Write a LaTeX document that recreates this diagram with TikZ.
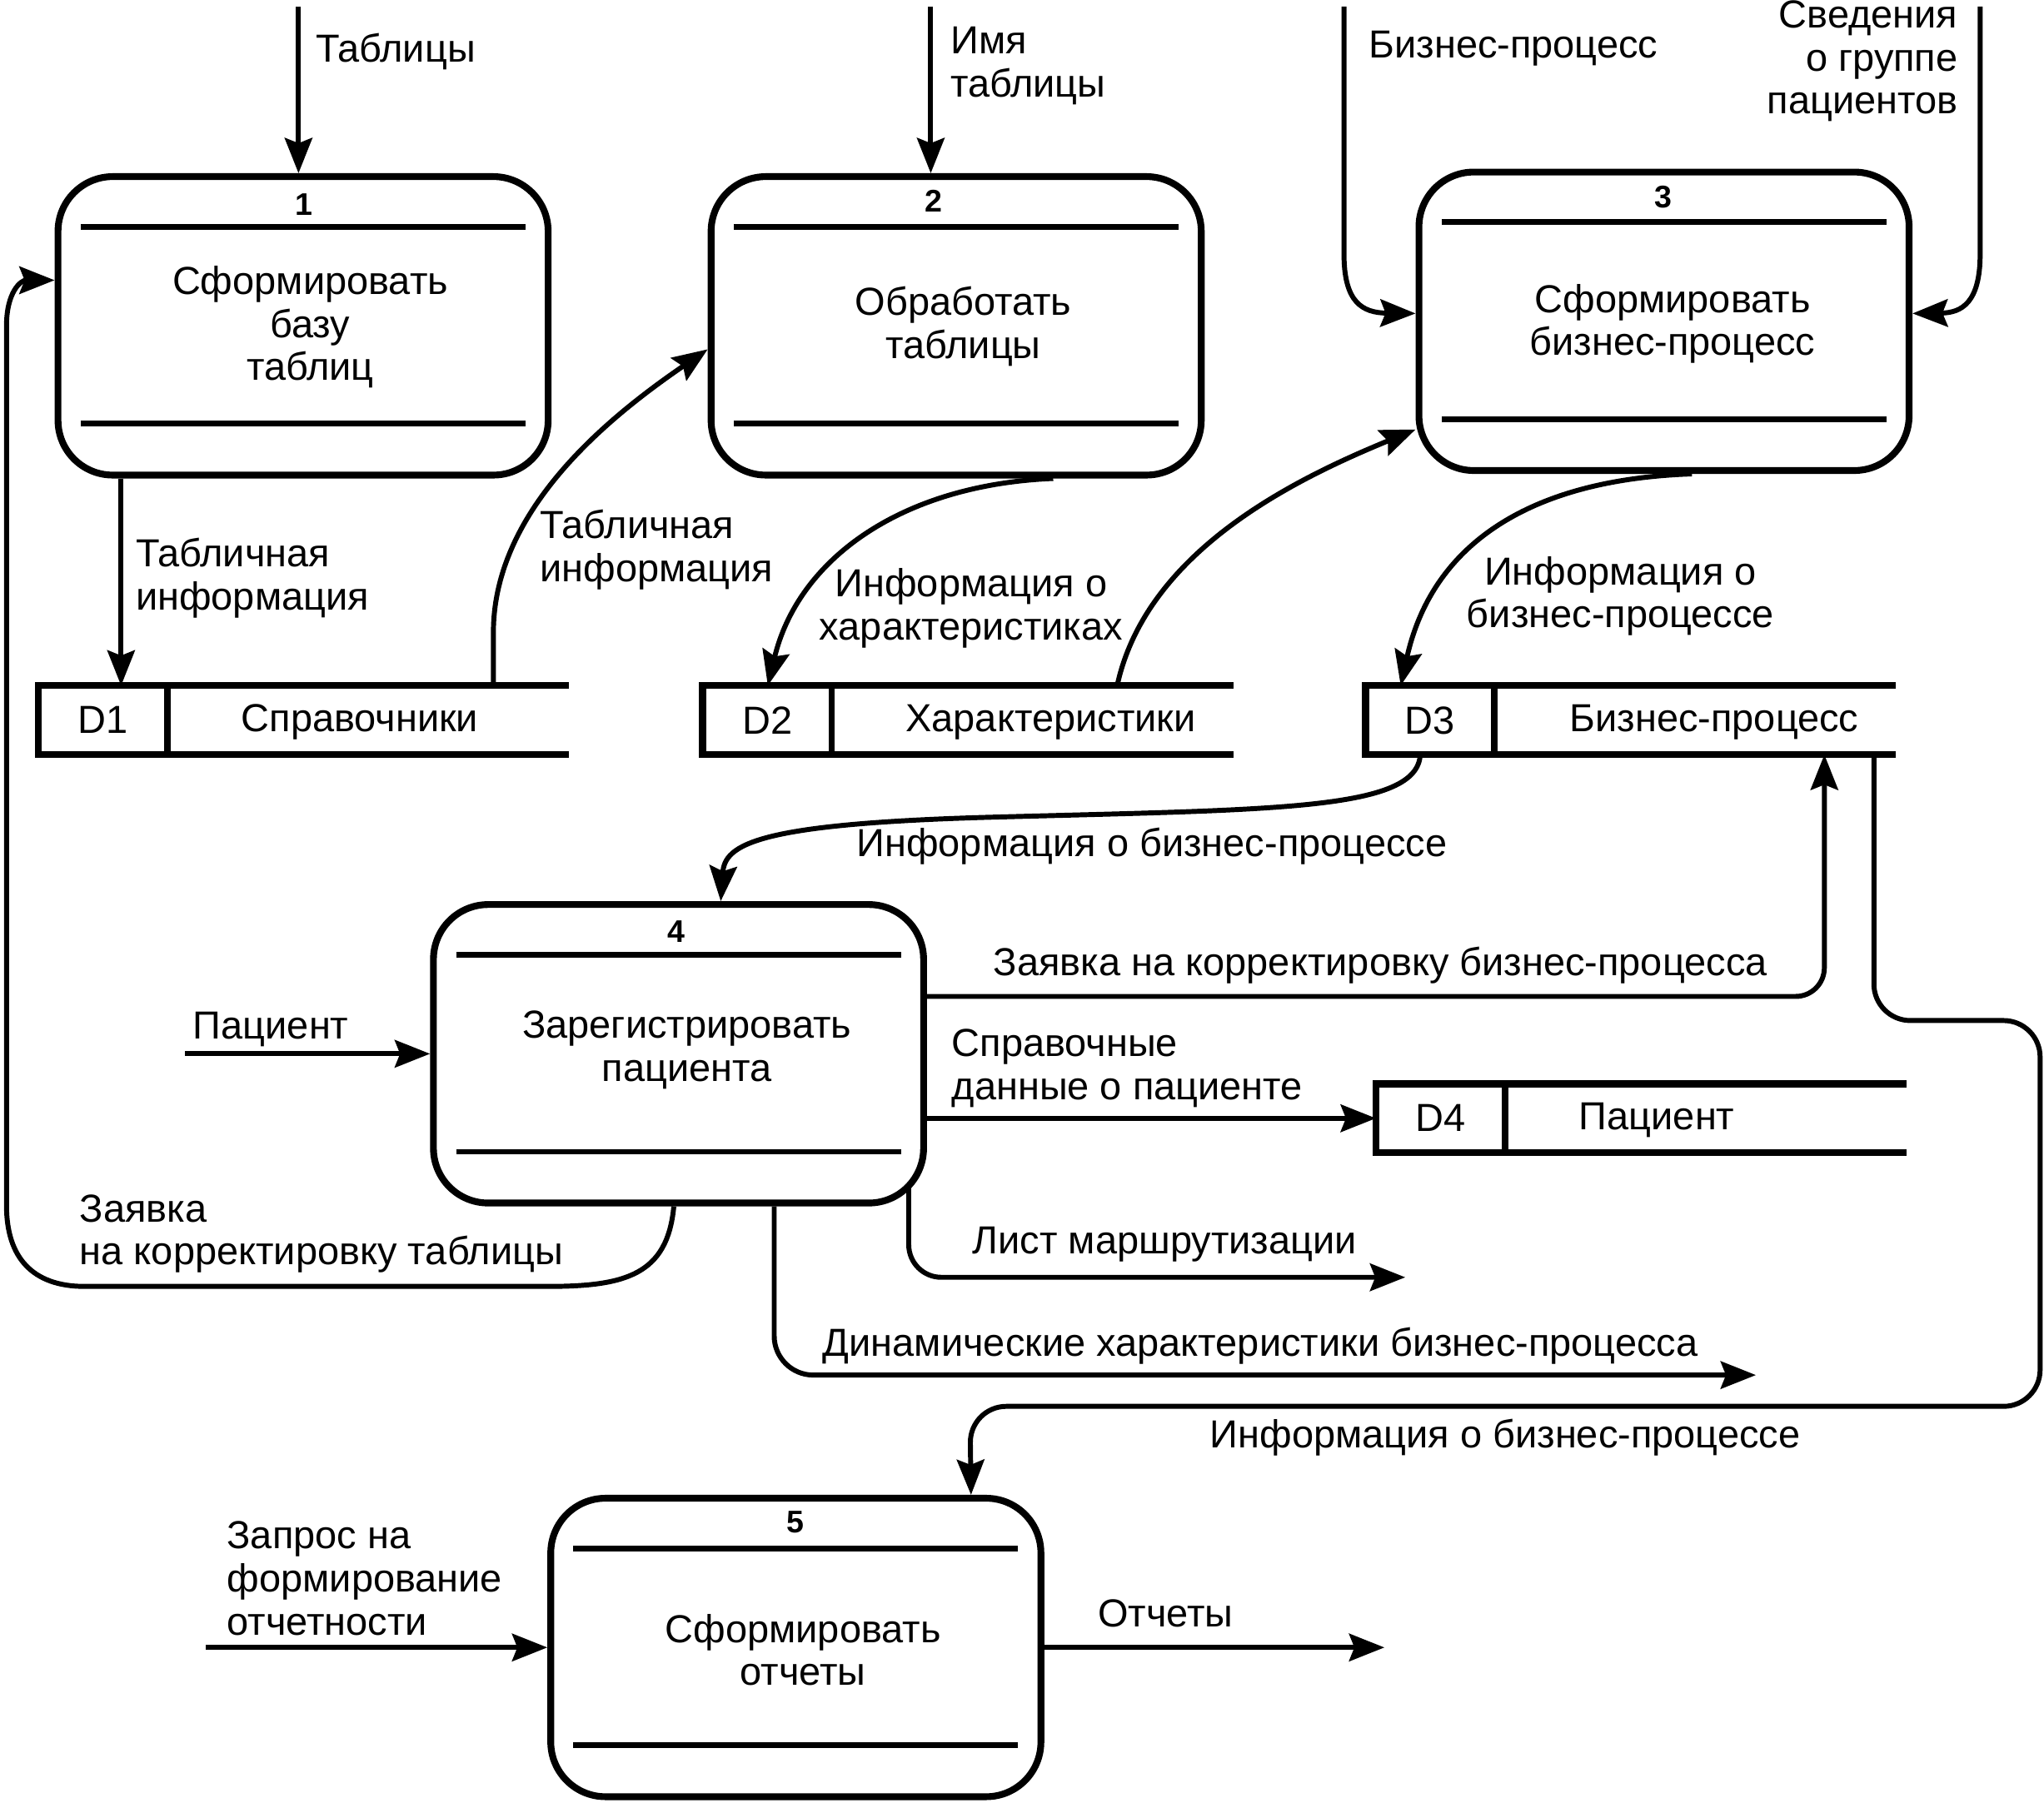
\documentclass[tikz,border=0pt]{standalone}
\usepackage{fontspec}
\setmainfont{Liberation Sans}
\usetikzlibrary{arrows.meta,calc}
\newcommand{\dfdlines}[1]{%
  \draw[innerline] ([xshift=20pt,yshift=-41pt]#1.north west) -- ([xshift=-20pt,yshift=-41pt]#1.north east);
  \draw[innerline] ([xshift=20pt,yshift=42pt]#1.south west) -- ([xshift=-20pt,yshift=42pt]#1.south east);}
\newcommand{\dfdstore}[1]{%
  \draw[storeline] (#1.north east) -- (#1.north west) -- (#1.south west) -- (#1.south east);
  \draw[sepline] ([xshift=99pt]#1.north west) -- ([xshift=99pt]#1.south west);}
\begin{document}
\begin{tikzpicture}[x=1pt,y=-1pt,
  procbox/.style={draw, line width=5.2pt, rounded corners=42pt, minimum width=376pt, minimum height=229pt, inner sep=0pt},
  innerline/.style={line width=4.3pt},
  storebox/.style={minimum width=407pt, minimum height=53pt, inner sep=0pt, outer sep=0pt},
  storeline/.style={line width=5.3pt, line join=miter},
  sepline/.style={line width=5pt},
  flow/.style={line width=3.8pt, -{Stealth[length=27pt,width=21pt,inset=4pt]}},
  lbl/.style={font=\fontsize{30}{33}\selectfont, inner sep=0pt},
  num/.style={font=\bfseries\fontsize{24}{24}\selectfont, inner sep=0pt}]
\useasboundingbox (0,0) rectangle (1568,1383);
% processes
\node[procbox] (b1) at (232.5,250) {};
\node[procbox] (b2) at (733.5,250) {};
\node[procbox] (b3) at (1276.5,246.5) {};
\node[procbox] (b4) at (520.5,808.5) {};
\node[procbox] (b5) at (610.5,1264) {};
\dfdlines{b1}\dfdlines{b2}\dfdlines{b3}\dfdlines{b4}\dfdlines{b5}
\node[num] (n1) at (233,157) {1};
\node[num] (n2) at (716,154) {2};
\node[num] (n3) at (1276,151) {3};
\node[num] (n4) at (519,715) {4};
\node[num] (n5) at (610,1168) {5};
\node[lbl, align=center] (t1) at (238,251) {Сформировать\\базу\\таблиц};
\node[lbl, align=center] (t2) at (739,250.5) {Обработать\\таблицы};
\node[lbl, align=center] (t3) at (1283,248.5) {Сформировать\\бизнес-процесс};
\node[lbl, align=center] (t4) at (527,805.5) {Зарегистрировать\\пациента};
\node[lbl, align=center] (t5) at (616,1266) {Сформировать\\отчеты};
% stores
\node[storebox] (d1) at (233,552.5) {};
\node[storebox] (d2) at (742.5,552.5) {};
\node[storebox] (d3) at (1251,552.5) {};
\node[storebox] (d4) at (1259,858) {};
\dfdstore{d1}\dfdstore{d2}\dfdstore{d3}\dfdstore{d4}
\node[lbl] (d1id) at (79,552.5) {D1};
\node[lbl] (d1n) at (276,554) {Справочники};
\node[lbl] (d2id) at (589,553) {D2};
\node[lbl] (d2n) at (806,554) {Характеристики};
\node[lbl] (d3id) at (1097,553) {D3};
\node[lbl] (d3n) at (1315,554) {Бизнес-процесс};
\node[lbl] (d4id) at (1105,858) {D4};
\node[lbl] (d4n) at (1271,859.5) {Пациент};
% free ends
\coordinate (in1) at (229,5);
\coordinate (in2) at (714,5);
\coordinate (in3) at (1031,5);
\coordinate (in4) at (1519,5);
\coordinate (in13) at (142,808.5);
\coordinate (in18) at (158,1264);
\coordinate (out15) at (1078,980);
\coordinate (out16) at (1347,1055);
\coordinate (out19) at (1062,1264);
% flows
\draw[flow] (in1) -- (in1 |- b1.north);
\draw[flow] (in2) -- (in2 |- b2.north);
\draw[flow] (in3) -- (1031,195) .. controls (1031,232) and (1045,240) .. ([yshift=6pt]b3.west);
\draw[flow] (in4) -- (1519,195) .. controls (1519,232) and (1505,240) .. ([yshift=6pt]b3.east);
\draw[flow] ([xshift=51pt]b1.south west) -- ([xshift=51pt]b1.south west |- d1.north);
\draw[flow] ([xshift=349pt]d1.north west) -- ++(0,-40) .. controls (378,390) and (470,318) .. ([yshift=-18pt]b2.west);
\draw[flow] ([xshift=265pt]b2.south west) .. controls (690,372) and (612,430) .. ([xshift=50pt]d2.north west);
\draw[flow] ([xshift=318pt]d2.north west) .. controls (880,420) and (1000,365) .. ([yshift=-83pt]b3.west);
\draw[flow] ([xshift=212pt]b3.south west) .. controls (1170,368) and (1098,420) .. ([xshift=27pt]d3.north west);
\draw[flow] ([xshift=42pt]d3.south west) .. controls (1087,622) and (980,621) .. (760,627) .. controls (580,632) and (556,648) .. ([xshift=223pt]b4.north west);
\draw[flow, rounded corners=22pt] ([yshift=44pt]b4.east) -| ([xshift=352pt]d3.south west);
\draw[flow, rounded corners=28pt] ([xshift=390pt]d3.south west) |- (1565,783) |- (744,1079) -- ([xshift=325pt]b5.north west);
\draw[flow] (in13) -- (b4.west);
\draw[flow] (b4.east |- d4.west) -- (d4.west);
\draw[flow, rounded corners=25pt] ([xshift=-14pt,yshift=14pt]b4.south east) |- (out15);
\draw[flow, rounded corners=30pt] ([xshift=264pt]b4.south west) |- (out16);
\draw[flow] ([xshift=187pt]b4.south west) .. controls (512,978) and (480,987) .. (420,987) -- (65,987) .. controls (25,987) and (5,965) .. (5,925) -- (5,250) .. controls (5,224) and (16,215) .. ([yshift=35pt]b1.west);
\draw[flow] (in18) -- (b5.west);
\draw[flow] (b5.east) -- (out19);
% labels
\node[lbl, anchor=west] (l1) at (242,39.5) {Таблицы};
\node[lbl, anchor=west, align=left] (l2) at (729,50.5) {Имя\\таблицы};
\node[lbl, anchor=west] (l3) at (1050,37) {Бизнес-процесс};
\node[lbl, anchor=east, align=right] (l4) at (1502,47) {Сведения\\о группе\\пациентов};
\node[lbl, anchor=west, align=left] (l5) at (104,443.5) {Табличная\\информация};
\node[lbl, anchor=west, align=left] (l6) at (414,422) {Табличная\\информация};
\node[lbl, align=center] (l7) at (745,466.5) {Информация о\\характеристиках};
\node[lbl, align=center] (l9) at (1243,457.5) {Информация о\\бизнес-процессе};
\node[lbl, anchor=west] (l10) at (657,649.5) {Информация о бизнес-процессе};
\node[lbl, anchor=west] (l11) at (762,740.5) {Заявка на корректировку бизнес-процесса};
\node[lbl, anchor=west] (l13) at (148,790) {Пациент};
\node[lbl, anchor=west, align=left] (l14) at (730,819.5) {Справочные\\данные о пациенте};
\node[lbl, anchor=west] (l15) at (746,955) {Лист маршрутизации};
\node[lbl, anchor=west] (l16) at (631,1032.5) {Динамические характеристики бизнес-процесса};
\node[lbl, anchor=west] (l12) at (928,1103) {Информация о бизнес-процессе};
\node[lbl, anchor=west, align=left] (l17) at (61,946.5) {Заявка\\на корректировку таблицы};
\node[lbl, anchor=west, align=left] (l18) at (174,1211) {Запрос на\\формирование\\отчетности};
\node[lbl, anchor=west] (l19) at (842,1238) {Отчеты};
\end{tikzpicture}
\end{document}
